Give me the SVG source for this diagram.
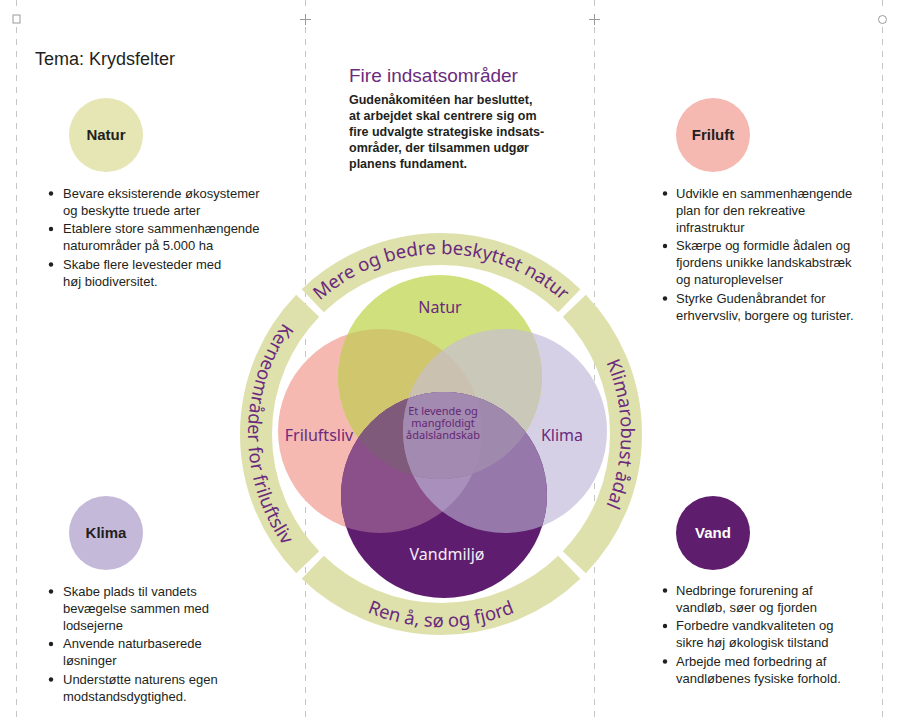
<svg xmlns="http://www.w3.org/2000/svg" width="902" height="718" viewBox="0 0 902 718">
<style>
.guide{stroke:#c6c6c6;stroke-width:1;stroke-dasharray:6 6;fill:none}
.mark{stroke:#9a9a9a;stroke-width:1;fill:none}
.body{font-family:"Liberation Sans",Arial,sans-serif;font-size:13px;fill:#231f20}
.para{font-family:"Liberation Sans",Arial,sans-serif;font-size:12.5px;font-weight:bold;fill:#231f20}
.side{font-family:"Liberation Sans",Arial,sans-serif;font-size:15px;font-weight:bold;text-anchor:middle}
.ring{font-family:"Noto Sans",sans-serif;font-size:18.5px;fill:#6b2a7d}
.vl{font-family:"Noto Sans",sans-serif;font-size:16px;fill:#6b2a7d;text-anchor:middle}
.ctr{font-family:"Noto Sans",sans-serif;font-size:11px;fill:#652774;text-anchor:middle}
.band{fill:none;stroke:#dfe1ad;stroke-width:32}
</style>
<defs>
<circle id="N" cx="440" cy="377" r="102"/>
<circle id="F" cx="380" cy="431" r="102"/>
<circle id="K" cx="505" cy="431" r="102"/>
<circle id="V" cx="444" cy="495" r="103"/>
<clipPath id="cN"><use href="#N"/></clipPath>
<clipPath id="cF"><use href="#F"/></clipPath>
<clipPath id="cK"><use href="#K"/></clipPath>
<clipPath id="cV"><use href="#V"/></clipPath>
<path id="tpTop" d="M261,434 A180,180 0 0 1 621,434"/>
<path id="tpRight" d="M441,254 A180,180 0 0 1 441,614"/>
<path id="tpBottom" d="M248,434 A193,193 0 0 0 634,434"/>
<path id="tpLeft" d="M441,241 A193,193 0 0 0 441,627"/>
</defs>
<rect width="902" height="718" fill="#ffffff"/>

<g id="guides">
<path class="guide" d="M16.5,0V12M16.5,27V718M305.5,0V12M305.5,27V718M594.5,0V12M594.5,27V718M882.5,0V12M882.5,27V718"/>
<rect class="mark" x="13" y="15" width="7" height="8"/>
<path class="mark" d="M300,19.5H311M305.5,14V25M589,19.5H600M594.5,14V25"/>
<circle class="mark" cx="882.5" cy="19.5" r="4"/>
</g>

<text class="body" x="35" y="65" style="font-size:18px">Tema: Krydsfelter</text>

<g id="intro">
<text x="349" y="82" style="font-family:'Liberation Sans',Arial,sans-serif;font-size:19px;fill:#6b2b7e">Fire indsatsområder</text>
<text class="para" x="349" y="104">Gudenåkomitéen har besluttet,</text>
<text class="para" x="349" y="120">at arbejdet skal centrere sig om</text>
<text class="para" x="349" y="136">fire udvalgte strategiske indsats-</text>
<text class="para" x="349" y="152">områder, der tilsammen udgør</text>
<text class="para" x="349" y="168">planens fundament.</text>
</g>

<g id="natur-box">
<circle cx="106" cy="135" r="37" fill="#e5e6b4"/>
<text class="side" x="106" y="140.3" fill="#231f20">Natur</text>
<g fill="#231f20"><circle cx="51" cy="193.5" r="2.2"/><circle cx="51" cy="229" r="2.2"/><circle cx="51" cy="264.5" r="2.2"/></g>
<text class="body" x="63" y="197.5">Bevare eksisterende økosystemer</text>
<text class="body" x="63" y="214.5">og beskytte truede arter</text>
<text class="body" x="63" y="233">Etablere store sammenhængende</text>
<text class="body" x="63" y="250">naturområder på 5.000 ha</text>
<text class="body" x="63" y="268.5">Skabe flere levesteder med</text>
<text class="body" x="63" y="285.5">høj biodiversitet.</text>
</g>

<g id="friluft-box">
<circle cx="713" cy="135" r="37" fill="#f6b9b1"/>
<text class="side" x="713" y="140.3" fill="#231f20">Friluft</text>
<g fill="#231f20"><circle cx="665" cy="193.5" r="2.2"/><circle cx="665" cy="246" r="2.2"/><circle cx="665" cy="298.5" r="2.2"/></g>
<text class="body" x="676" y="197.5">Udvikle en sammenhængende</text>
<text class="body" x="676" y="214.5">plan for den rekreative</text>
<text class="body" x="676" y="231.5">infrastruktur</text>
<text class="body" x="676" y="250">Skærpe og formidle ådalen og</text>
<text class="body" x="676" y="267">fjordens unikke landskabstræk</text>
<text class="body" x="676" y="284">og naturoplevelser</text>
<text class="body" x="676" y="302.5">Styrke Gudenåbrandet for</text>
<text class="body" x="676" y="319.5">erhvervsliv, borgere og turister.</text>
</g>

<g id="klima-box">
<circle cx="106" cy="533" r="37" fill="#c5b9da"/>
<text class="side" x="106" y="538.3" fill="#231f20">Klima</text>
<g fill="#231f20"><circle cx="51" cy="591.5" r="2.2"/><circle cx="51" cy="644" r="2.2"/><circle cx="51" cy="679.5" r="2.2"/></g>
<text class="body" x="63" y="595.5">Skabe plads til vandets</text>
<text class="body" x="63" y="612.5">bevægelse sammen med</text>
<text class="body" x="63" y="629.5">lodsejerne</text>
<text class="body" x="63" y="648">Anvende naturbaserede</text>
<text class="body" x="63" y="665">løsninger</text>
<text class="body" x="63" y="683.5">Understøtte naturens egen</text>
<text class="body" x="63" y="700.5">modstandsdygtighed.</text>
</g>

<g id="vand-box">
<circle cx="713" cy="533" r="37" fill="#5f1d6e"/>
<text class="side" x="713" y="538.3" fill="#ffffff">Vand</text>
<g fill="#231f20"><circle cx="665" cy="590.5" r="2.2"/><circle cx="665" cy="626" r="2.2"/><circle cx="665" cy="661.5" r="2.2"/></g>
<text class="body" x="676" y="594.5">Nedbringe forurening af</text>
<text class="body" x="676" y="611.5">vandløb, søer og fjorden</text>
<text class="body" x="676" y="630">Forbedre vandkvaliteten og</text>
<text class="body" x="676" y="647">sikre høj økologisk tilstand</text>
<text class="body" x="676" y="665.5">Arbejde med forbedring af</text>
<text class="body" x="676" y="682.5">vandløbenes fysiske forhold.</text>
</g>

<g id="ring">
<path class="band" d="M312.72,300.69 A185,185 0 0 1 569.28,300.69"/>
<path class="band" d="M574.31,305.72 A185,185 0 0 1 574.31,562.28"/>
<path class="band" d="M569.28,567.31 A185,185 0 0 1 312.72,567.31"/>
<path class="band" d="M307.69,562.28 A185,185 0 0 1 307.69,305.72"/>
<text class="ring"><textPath href="#tpTop" startOffset="50%" text-anchor="middle">Mere og bedre beskyttet natur</textPath></text>
<text class="ring"><textPath href="#tpRight" startOffset="50%" text-anchor="middle">Klimarobust ådal</textPath></text>
<text class="ring"><textPath href="#tpBottom" startOffset="50%" text-anchor="middle">Ren å, sø og fjord</textPath></text>
<text class="ring"><textPath href="#tpLeft" startOffset="50%" text-anchor="middle">Kerneområder for friluftsliv</textPath></text>
</g>

<g id="venn">
<use href="#F" fill="#f5b9b2"/>
<use href="#K" fill="#d5d0e6"/>
<use href="#N" fill="#cfe07c"/>
<g clip-path="url(#cN)">
<use href="#F" fill="#cfc66d"/>
<use href="#K" fill="#c9c8b9"/>
<g clip-path="url(#cF)"><use href="#K" fill="#cac1b1"/></g>
</g>
<use href="#V" fill="#5f1d6f"/>
<g clip-path="url(#cV)">
<use href="#N" fill="#8e6f96"/>
<use href="#F" fill="#8b4f8a"/>
<use href="#K" fill="#9679aa"/>
<g clip-path="url(#cF)"><use href="#K" fill="#a98fbb"/></g>
<g clip-path="url(#cN)">
<use href="#F" fill="#7f5a7b"/>
<use href="#K" fill="#9f89ad"/>
<g clip-path="url(#cF)"><use href="#K" fill="#a38ab1"/></g>
</g>
</g>
<text class="vl" x="440" y="313">Natur</text>
<text class="vl" x="319" y="440.5">Friluftsliv</text>
<text class="vl" x="562" y="440.5">Klima</text>
<text class="vl" x="447" y="559.5" style="fill:#f4eef6">Vandmiljø</text>
<text class="ctr" x="443" y="415">Et levende og</text>
<text class="ctr" x="443" y="427">mangfoldigt</text>
<text class="ctr" x="443" y="439">ådalslandskab</text>
</g>
</svg>
